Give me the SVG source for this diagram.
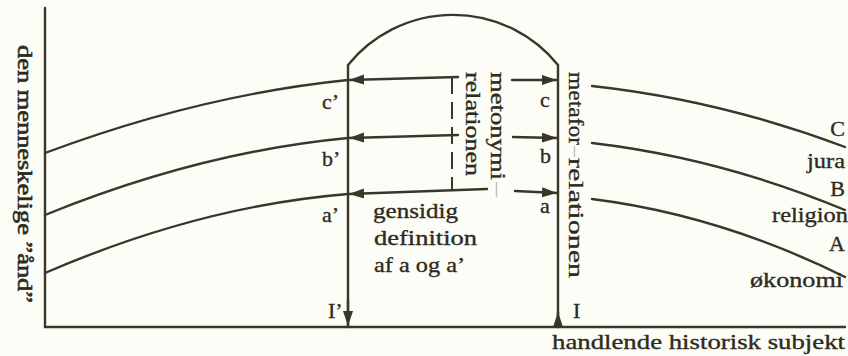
<svg xmlns="http://www.w3.org/2000/svg" width="848" height="356" viewBox="0 0 848 356">
<style>
.ln{fill:none;stroke:#3a3628;stroke-width:2.4;stroke-linecap:round}
.dash{fill:none;stroke:#3a3628;stroke-width:2;stroke-dasharray:17,8}
.t{font-family:"Liberation Serif","DejaVu Serif",serif;font-size:22px;fill:#2e2a20;stroke:#2e2a20;stroke-width:0.35}
.g{fill:#b4b2a8;stroke:none}
</style>
<defs>
<marker id="ah" markerUnits="userSpaceOnUse" markerWidth="16" markerHeight="12" refX="15" refY="5" orient="auto">
<path d="M0,0 L15,5 L0,10 z" fill="#3a3628"/>
</marker>
</defs>
<rect width="848" height="356" fill="#fdfdf7"/>
<g id="axes">
<path class="ln" d="M45,8 L45,327 L845,327"/>
</g>
<g id="connectors">
<path class="ln" d="M45,153 Q200,95 348,80"/>
<path class="ln" d="M45,215 Q200,152 348,138"/>
<path class="ln" d="M45,273 Q200,206 348,194"/>
<path class="ln" d="M592,86 Q720,100 845,147"/>
<path class="ln" d="M592,143 Q720,158 845,210"/>
<path class="ln" d="M592,199 Q720,215 845,277"/>
<path class="ln" d="M348,327 L348,65 A135,135 0 0 1 558,65 L558,327"/>
<path class="ln" d="M348,300 L348,326" marker-end="url(#ah)"/>
<path class="ln" d="M558,327 L558,312" marker-end="url(#ah)"/>
<path class="ln" d="M458,77 L349,80" marker-end="url(#ah)"/>
<path class="ln" d="M458,135 L349,138" marker-end="url(#ah)"/>
<path class="ln" d="M487,189 L349,194" marker-end="url(#ah)"/>
<path class="ln" d="M512,80 L557,80" marker-end="url(#ah)"/>
<path class="ln" d="M513,137 L557,138" marker-end="url(#ah)"/>
<path class="ln" d="M515,191 L557,193" marker-end="url(#ah)"/>
<path class="dash" d="M452,77 L452,189"/>
</g>
<g id="labels">
<text class="t" x="322" y="109">c’</text>
<text class="t" x="322" y="166">b’</text>
<text class="t" x="322" y="222">a’</text>
<text class="t" x="540" y="107">c</text>
<text class="t" x="540" y="163">b</text>
<text class="t" x="540" y="213">a</text>
<text class="t" x="328" y="318">I’</text>
<text class="t" x="573" y="318">I</text>
<text class="t" x="373" y="218" textLength="85" lengthAdjust="spacingAndGlyphs">gensidig</text>
<text class="t" x="374" y="245" textLength="103" lengthAdjust="spacingAndGlyphs">definition</text>
<text class="t" x="374" y="272" textLength="91" lengthAdjust="spacingAndGlyphs">af a og a’</text>
<text class="t" x="552" y="349" textLength="293" lengthAdjust="spacingAndGlyphs">handlende historisk subjekt</text>
<text class="t" x="845" y="136" text-anchor="end">C</text>
<text class="t" x="845" y="168" text-anchor="end" textLength="38" lengthAdjust="spacingAndGlyphs">jura</text>
<text class="t" x="845" y="196" text-anchor="end">B</text>
<text class="t" x="848" y="222" text-anchor="end" textLength="76" lengthAdjust="spacingAndGlyphs">religion</text>
<text class="t" x="845" y="251" text-anchor="end">A</text>
<text class="t" x="843" y="287" text-anchor="end" textLength="93" lengthAdjust="spacingAndGlyphs">økonomi</text>
<text class="t" transform="translate(18,45) rotate(90)" textLength="258" lengthAdjust="spacingAndGlyphs" style="stroke-width:0.6">den menneskelige ”ånd”</text>
<text class="t" transform="translate(491,72) rotate(90)" textLength="108" lengthAdjust="spacingAndGlyphs">metonymi</text>
<text class="t g" transform="translate(491,182) rotate(90)" textLength="15" lengthAdjust="spacingAndGlyphs">—</text>
<text class="t" transform="translate(466,72) rotate(90)" textLength="104" lengthAdjust="spacingAndGlyphs">relationen</text>
<text class="t" transform="translate(569,72) rotate(90)" textLength="73" lengthAdjust="spacingAndGlyphs">metafor</text>
<text class="t g" transform="translate(569,146) rotate(90)" textLength="11" lengthAdjust="spacingAndGlyphs">—</text>
<text class="t" transform="translate(569,158) rotate(90)" textLength="120" lengthAdjust="spacingAndGlyphs">relationen</text>
</g>
</svg>
